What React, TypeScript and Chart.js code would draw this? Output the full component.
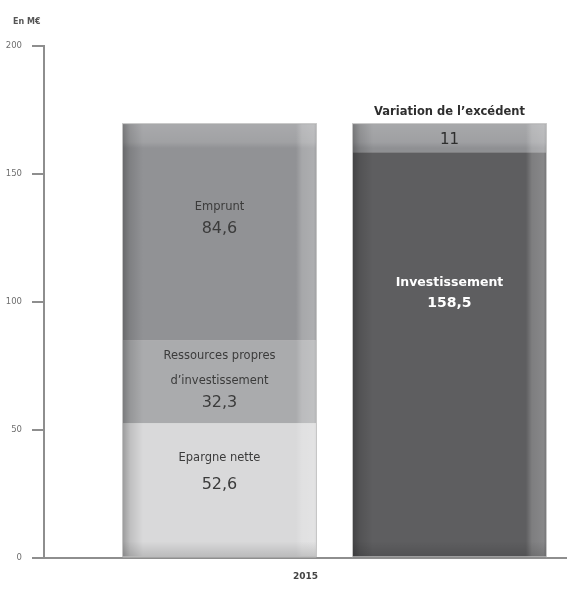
import { useEffect, useRef } from "react";
import { Chart, registerables } from "chart.js";

Chart.register(...registerables);

// Budget 2015 : ressources (gauche) et emplois (droite), en millions d'euros
const periodLabel = "2015";
const unitLabel = "En M€";
const yTickValues = [0, 50, 100, 150, 200];

const resourceNames = ["Epargne nette", "Ressources propres\nd’investissement", "Emprunt"];
const resourceValues = [52.6, 32.3, 84.6];

const useNames = ["Investissement", "Variation de l’excédent"];
const useValues = [158.5, 11];

// x position of each stacked column on the linear index axis
const resourceColumn = 1;
const useColumn = 2;

const resourceColors = ["#d9d9da", "#aaabad", "#919295"];
const useColors = ["#5e5e60", "#8f9093"];

const FONT = "'DejaVu Sans', 'Liberation Sans', sans-serif";

type LabelStyle = {
  nameDy: number[];
  valueDy: number;
  color: string;
  nameFont: string;
  valueFont: string;
};

const labelStyles: LabelStyle[] = [
  { nameDy: [-32], valueDy: -6, color: "#3b3b3b", nameFont: `11.5px ${FONT}`, valueFont: `16px ${FONT}` },
  { nameDy: [-26, -1], valueDy: 21, color: "#3b3b3b", nameFont: `11.5px ${FONT}`, valueFont: `16px ${FONT}` },
  { nameDy: [-25], valueDy: -4, color: "#3b3b3b", nameFont: `11.5px ${FONT}`, valueFont: `16px ${FONT}` },
  { nameDy: [-72], valueDy: -51, color: "#ffffff", nameFont: `bold 12.5px ${FONT}`, valueFont: `bold 14px ${FONT}` },
  { nameDy: [-26], valueDy: 2, color: "#2e2e2e", nameFont: `bold 11.5px ${FONT}`, valueFont: `15px ${FONT}` },
];

const formatValue = (v: number) => String(v).replace(".", ",");

const bevelAndLabels = {
  id: "bevelAndLabels",
  afterDatasetsDraw(chart: any) {
    const ctx: CanvasRenderingContext2D = chart.ctx;
    // group bar elements by column to shade each stack as one block
    const stacks = new Map<number, { l: number; r: number; t: number; b: number }>();
    chart.data.datasets.forEach((_: any, i: number) => {
      const meta = chart.getDatasetMeta(i);
      meta.data.forEach((bar: any) => {
        const key = Math.round(bar.x);
        const l = bar.x - bar.width / 2;
        const r = bar.x + bar.width / 2;
        const t = Math.min(bar.y, bar.base);
        const b = Math.max(bar.y, bar.base);
        const s = stacks.get(key);
        if (!s) stacks.set(key, { l, r, t, b });
        else {
          s.l = Math.min(s.l, l);
          s.r = Math.max(s.r, r);
          s.t = Math.min(s.t, t);
          s.b = Math.max(s.b, b);
        }
      });
    });

    stacks.forEach(({ l, r, t, b }) => {
      const w = r - l;
      const h = b - t;
      ctx.save();
      ctx.beginPath();
      ctx.rect(l, t, w, h);
      ctx.clip();

      // light top band
      let g = ctx.createLinearGradient(0, t, 0, t + 24);
      g.addColorStop(0, "rgba(255,255,255,0.22)");
      g.addColorStop(0.75, "rgba(255,255,255,0.14)");
      g.addColorStop(1, "rgba(255,255,255,0)");
      ctx.fillStyle = g;
      ctx.fillRect(l, t, w, 24);

      // light right band
      g = ctx.createLinearGradient(r - 20, 0, r, 0);
      g.addColorStop(0, "rgba(255,255,255,0)");
      g.addColorStop(0.3, "rgba(255,255,255,0.2)");
      g.addColorStop(0.9, "rgba(255,255,255,0.26)");
      g.addColorStop(1, "rgba(255,255,255,0.1)");
      ctx.fillStyle = g;
      ctx.fillRect(r - 20, t, 20, h);

      // dark left edge
      g = ctx.createLinearGradient(l, 0, l + 20, 0);
      g.addColorStop(0, "rgba(0,0,0,0.28)");
      g.addColorStop(0.35, "rgba(0,0,0,0.12)");
      g.addColorStop(1, "rgba(0,0,0,0)");
      ctx.fillStyle = g;
      ctx.fillRect(l, t, 20, h);

      // dark bottom edge
      g = ctx.createLinearGradient(0, b - 16, 0, b);
      g.addColorStop(0, "rgba(0,0,0,0)");
      g.addColorStop(1, "rgba(0,0,0,0.14)");
      ctx.fillStyle = g;
      ctx.fillRect(l, b - 16, w, 16);
      ctx.restore();

      ctx.save();
      ctx.strokeStyle = "rgba(190,190,190,0.9)";
      ctx.lineWidth = 1;
      ctx.strokeRect(l - 0.5, t - 0.5, w + 1, h);
      ctx.restore();
    });

    // segment labels
    ctx.save();
    ctx.textAlign = "center";
    ctx.textBaseline = "middle";
    chart.data.datasets.forEach((ds: any, i: number) => {
      const bar = chart.getDatasetMeta(i).data[0];
      const st = labelStyles[i];
      if (!bar || !st) return;
      const cy = (bar.y + bar.base) / 2;
      const lines = String(ds.label).split("\n");
      ctx.fillStyle = st.color;
      ctx.font = st.nameFont;
      lines.forEach((line, k) => ctx.fillText(line, bar.x, cy + st.nameDy[k]));
      ctx.font = st.valueFont;
      ctx.fillText(formatValue(ds.data[0].y), bar.x, cy + st.valueDy);
    });
    ctx.restore();
  },
  afterDraw(chart: any) {
    const ctx: CanvasRenderingContext2D = chart.ctx;
    const y = chart.scales.y;
    ctx.save();
    ctx.font = `bold 8px ${FONT}`;
    ctx.fillStyle = "#555555";
    ctx.textAlign = "left";
    ctx.textBaseline = "middle";
    ctx.fillText(unitLabel, y.left + 13, y.top - 24);
    ctx.restore();
  },
};

export default function App() {
  const canvasRef = useRef<HTMLCanvasElement | null>(null);

  useEffect(() => {
    if (!canvasRef.current) return;
    const datasets = [
      ...resourceNames.map((name, i) => ({
        label: name,
        data: [{ x: resourceColumn, y: resourceValues[i] }],
        backgroundColor: resourceColors[i],
      })),
      ...useNames.map((name, i) => ({
        label: name,
        data: [{ x: useColumn, y: useValues[i] }],
        backgroundColor: useColors[i],
      })),
    ];

    const chart = new Chart(canvasRef.current, {
      type: "bar",
      data: { datasets },
      plugins: [bevelAndLabels],
      options: {
        animation: false,
        responsive: false,
        layout: { padding: { top: 46, right: 0, bottom: 1, left: 0 } },
        datasets: { bar: { categoryPercentage: 1, barPercentage: 0.839, borderWidth: 0 } },
        plugins: {
          legend: { display: false },
          tooltip: { enabled: false },
        },
        scales: {
          x: {
            type: "linear",
            min: 0.237,
            max: 2.511,
            offset: false,
            stacked: true,
            afterBuildTicks: (scale: any) => {
              scale.ticks = [{ value: resourceColumn }, { value: useColumn }];
            },
            grid: { display: false, drawTicks: false, offset: false },
            ticks: { display: false },
            border: { display: true, color: "#8e8e8e", width: 2 },
            title: {
              display: true,
              text: periodLabel,
              color: "#444444",
              font: { family: FONT, size: 9, weight: "bold" },
              padding: { top: 13.5, bottom: 13.5 },
            },
          },
          y: {
            stacked: true,
            min: 0,
            max: 200,
            afterBuildTicks: (scale: any) => {
              scale.ticks = yTickValues.map((v) => ({ value: v }));
            },
            afterFit: (scale: any) => {
              scale.width = 44;
            },
            ticks: {
              padding: 10,
              color: "#6f6f6f",
              font: { family: FONT, size: 8.5 },
            },
            grid: {
              drawOnChartArea: false,
              drawTicks: true,
              tickLength: 12,
              color: "#8e8e8e",
              lineWidth: 2,
            },
            border: { display: true, color: "#8e8e8e", width: 2 },
          },
        },
      } as any,
    });
    return () => chart.destroy();
  }, []);

  return (
    <div style={{ position: "fixed", left: 0, top: 0, width: 567, height: 597, background: "#ffffff" }}>
      <canvas ref={canvasRef} width={567} height={597} />
    </div>
  );
}
